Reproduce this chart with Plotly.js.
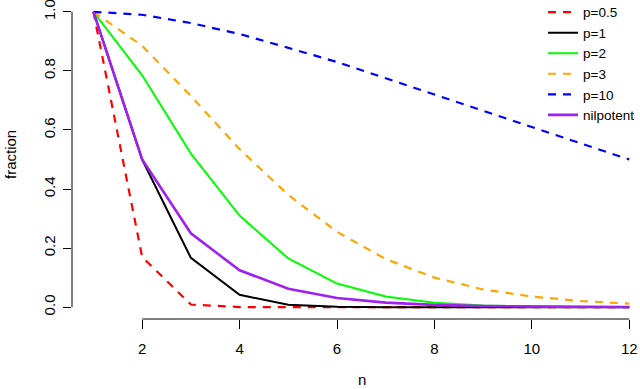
<!DOCTYPE html>
<html>
<head>
<meta charset="utf-8">
<script src="https://cdn.plot.ly/plotly-3.0.1.min.js"></script>
<style>
  html, body { margin: 0; padding: 0; background: #fff; }
  #chart { width: 640px; height: 389px; }
</style>
</head>
<body>
<div id="chart"></div>
<script>
const n = [1, 2, 3, 4, 5, 6, 7, 8, 9, 10, 11, 12];

const p05 = [1, 0.17, 0.009, 0.0004, 0, 0, 0, 0, 0, 0, 0, 0];
const p1 = [1, 0.5, 0.167, 0.042, 0.008, 0.0014, 0.0002, 0, 0, 0, 0, 0];
const p2 = [1, 0.785, 0.52, 0.31, 0.165, 0.08, 0.036, 0.015, 0.006, 0.002, 0.001, 0.0003];
const p3 = [1, 0.885, 0.715, 0.535, 0.38, 0.255, 0.163, 0.1, 0.06, 0.036, 0.021, 0.012];
const p10 = [1, 0.99, 0.962, 0.925, 0.878, 0.83, 0.775, 0.72, 0.665, 0.61, 0.555, 0.5];
const nilpotent = [1, 0.5, 0.25, 0.125, 0.0625, 0.031, 0.0156, 0.0078, 0.0039, 0.002, 0.001, 0.0005];

const xTicks = [2, 4, 6, 8, 10, 12];
const yTicks = [0, 0.2, 0.4, 0.6, 0.8, 1.0];

const FONT = 'Liberation Sans, Arial, Helvetica, sans-serif';
const DASH = '8px,7px';

const series = [
  { name: 'p=0.5', y: p05, color: '#ff0000', dash: DASH, width: 2.2 },
  { name: 'p=1', y: p1, color: '#000000', dash: 'solid', width: 2 },
  { name: 'p=2', y: p2, color: '#00ff00', dash: 'solid', width: 2 },
  { name: 'p=3', y: p3, color: '#ffa500', dash: DASH, width: 2.2 },
  { name: 'p=10', y: p10, color: '#0000ff', dash: DASH, width: 2.2 },
  { name: 'nilpotent', y: nilpotent, color: '#a020f0', dash: 'solid', width: 2.6 },
];

const traces = series.map(s => ({
  name: s.name,
  x: n,
  y: s.y,
  type: 'scatter',
  mode: 'lines',
  line: { color: s.color, dash: s.dash, width: s.width },
}));

const layout = {
  width: 640,
  height: 389,
  font: { family: FONT, size: 15, color: '#000' },
  paper_bgcolor: '#fff',
  plot_bgcolor: '#fff',
  margin: { t: 0, r: 0, b: 70, l: 72, autoexpand: false },
  showlegend: true,
  legend: {
    x: 1, xanchor: 'right',
    y: 0.80, yanchor: 'middle',
    bgcolor: 'rgba(0,0,0,0)',
    font: { family: FONT, size: 13.5, color: '#000' },
    itemwidth: 30,
  },
  xaxis: {
    range: [0.56, 12.22],
    tickvals: xTicks,
    ticktext: xTicks.map(String),
    ticks: 'outside',
    ticklen: 9,
    tickwidth: 1,
    tickcolor: '#000',
    showline: false,
    showgrid: false,
    zeroline: false,
    automargin: false,
    ticklabelstandoff: 7,
  },
  yaxis: {
    range: [-0.04, 1.04],
    tickvals: yTicks,
    ticktext: yTicks.map(v => v.toFixed(1)),
    tickangle: -90,
    ticks: 'outside',
    ticklen: 8,
    tickwidth: 1,
    tickcolor: '#000',
    showline: false,
    showgrid: false,
    zeroline: false,
    automargin: false,
    ticklabelstandoff: 2,
    ticklabeloverflow: 'allow',
  },
  annotations: [
    // axis titles placed R-style
    { text: 'n', xref: 'paper', yref: 'paper', x: 0.51, y: 0,
      xanchor: 'center', yanchor: 'middle', yshift: -60,
      showarrow: false, font: { family: FONT, size: 15, color: '#000' } },
    { text: 'fraction', xref: 'paper', yref: 'paper', x: 0, y: 0.514,
      xanchor: 'center', yanchor: 'middle', xshift: -62, textangle: -90,
      showarrow: false, font: { family: FONT, size: 15, color: '#000' } },
  ],
  shapes: [
    // R-style axis lines spanning only the tick range
    { type: 'line', xref: 'x', yref: 'paper', x0: xTicks[0], x1: xTicks[xTicks.length - 1], y0: 0, y1: 0,
      line: { color: '#000', width: 1 } },
    { type: 'line', xref: 'paper', yref: 'y', x0: 0, x1: 0, y0: yTicks[0], y1: yTicks[yTicks.length - 1],
      line: { color: '#000', width: 1 } },
  ],
};

Plotly.newPlot('chart', traces, layout, { displayModeBar: false, staticPlot: true });
</script>
</body>
</html>
